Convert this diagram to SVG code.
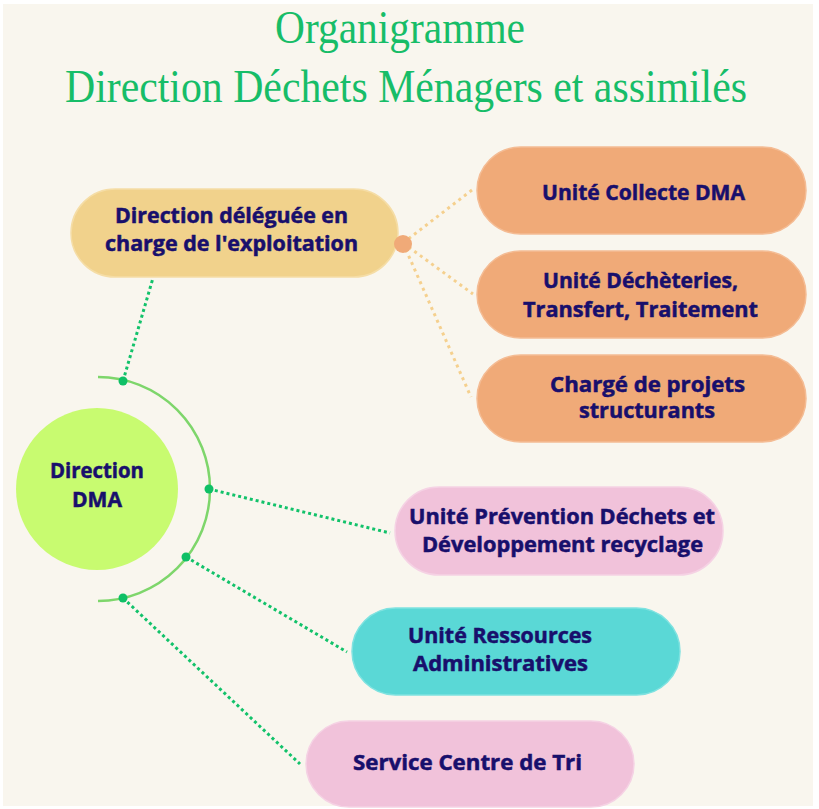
<svg xmlns="http://www.w3.org/2000/svg" width="819" height="809" viewBox="0 0 819 809">
  <style>
    .title { font-family: "Liberation Serif", "DejaVu Serif", serif; font-size: 46px; fill: #17bd68; text-anchor: middle; }
    .lbl { font-family: "Open Sans", "Liberation Sans", sans-serif; font-weight: 700; font-size: 20.5px; fill: #180f6c; stroke: #180f6c; stroke-width: 0.5; text-anchor: middle; }
    .pill { stroke-width: 1.5; }
    .yellow { fill: #f1d28c; stroke: #f5dda6; }
    .orange { fill: #f0aa78; stroke: #f4bc94; }
    .pink { fill: #f1c2da; stroke: #f5d2e4; }
    .teal { fill: #5ad8d6; stroke: #7fe2e0; }
    .gdot { fill: none; stroke: #12c26a; stroke-width: 3; stroke-dasharray: 3 3; }
    .odot { fill: none; stroke: #f5d08e; stroke-width: 3; stroke-dasharray: 3 4; }
    .knot { fill: #0fc066; }
  </style>
  <rect x="0" y="0" width="819" height="809" fill="#ffffff"/>
  <rect x="3" y="4" width="810" height="802" fill="#f9f6ee"/>

  <g id="title">
    <text class="title" x="400" y="43" textLength="250" lengthAdjust="spacingAndGlyphs">Organigramme</text>
    <text class="title" x="406" y="102" textLength="682" lengthAdjust="spacingAndGlyphs">Direction Déchets Ménagers et assimilés</text>
  </g>

  <g id="connectors">
    <path d="M98,377 A112,112 0 0 1 98,601" fill="none" stroke="#7ed66b" stroke-width="2.5"/>
    <line class="gdot" x1="123" y1="381" x2="153" y2="278"/>
    <line class="gdot" x1="209" y1="489" x2="390" y2="533"/>
    <line class="gdot" x1="186" y1="557" x2="347" y2="652"/>
    <line class="gdot" x1="123" y1="598" x2="300" y2="764"/>
    <line class="odot" x1="403" y1="243" x2="472" y2="190"/>
    <line class="odot" x1="403" y1="243" x2="473" y2="294"/>
    <line class="odot" x1="403" y1="243" x2="471" y2="397"/>
    <circle class="knot" cx="123" cy="381" r="4.5"/>
    <circle class="knot" cx="209" cy="489" r="4.5"/>
    <circle class="knot" cx="186" cy="557" r="4.5"/>
    <circle class="knot" cx="123" cy="598" r="4.5"/>
  </g>

  <g id="direction-dma">
    <circle cx="97" cy="489" r="81" fill="#c8fb70"/>
    <text class="lbl" x="97" y="478" textLength="94" lengthAdjust="spacingAndGlyphs">Direction</text>
    <text class="lbl" x="97" y="507" textLength="50" lengthAdjust="spacingAndGlyphs">DMA</text>
  </g>

  <g id="direction-deleguee">
    <rect class="pill yellow" x="71" y="189" width="327" height="88" rx="44"/>
    <text class="lbl" x="231.5" y="223" textLength="233" lengthAdjust="spacingAndGlyphs">Direction déléguée en</text>
    <text class="lbl" x="231.5" y="251" textLength="253" lengthAdjust="spacingAndGlyphs">charge de l'exploitation</text>
    <circle cx="403" cy="244" r="9" fill="#f0aa78"/>
  </g>

  <g id="unite-collecte">
    <rect class="pill orange" x="477" y="147" width="329" height="87" rx="43.5"/>
    <text class="lbl" x="643.5" y="200" textLength="203" lengthAdjust="spacingAndGlyphs">Unité Collecte DMA</text>
  </g>

  <g id="unite-decheteries">
    <rect class="pill orange" x="477" y="251" width="329" height="87" rx="43.5"/>
    <text class="lbl" x="640.5" y="288" textLength="195" lengthAdjust="spacingAndGlyphs">Unité Déchèteries,</text>
    <text class="lbl" x="640.5" y="317" textLength="235" lengthAdjust="spacingAndGlyphs">Transfert, Traitement</text>
  </g>

  <g id="charge-projets">
    <rect class="pill orange" x="477" y="355" width="329" height="87" rx="43.5"/>
    <text class="lbl" x="647.5" y="392" textLength="195" lengthAdjust="spacingAndGlyphs">Chargé de projets</text>
    <text class="lbl" x="647" y="418" textLength="136" lengthAdjust="spacingAndGlyphs">structurants</text>
  </g>

  <g id="unite-prevention">
    <rect class="pill pink" x="395" y="487" width="328" height="88" rx="44"/>
    <text class="lbl" x="562" y="524" textLength="306" lengthAdjust="spacingAndGlyphs">Unité Prévention Déchets et</text>
    <text class="lbl" x="562.5" y="552" textLength="281" lengthAdjust="spacingAndGlyphs">Développement recyclage</text>
  </g>

  <g id="unite-ressources">
    <rect class="pill teal" x="352" y="608" width="328" height="87" rx="43.5"/>
    <text class="lbl" x="500" y="643" textLength="184" lengthAdjust="spacingAndGlyphs">Unité Ressources</text>
    <text class="lbl" x="500.5" y="671" textLength="175" lengthAdjust="spacingAndGlyphs">Administratives</text>
  </g>

  <g id="service-tri">
    <rect class="pill pink" x="306" y="721" width="328" height="86" rx="43"/>
    <text class="lbl" x="467.5" y="770" textLength="229" lengthAdjust="spacingAndGlyphs">Service Centre de Tri</text>
  </g>
</svg>
